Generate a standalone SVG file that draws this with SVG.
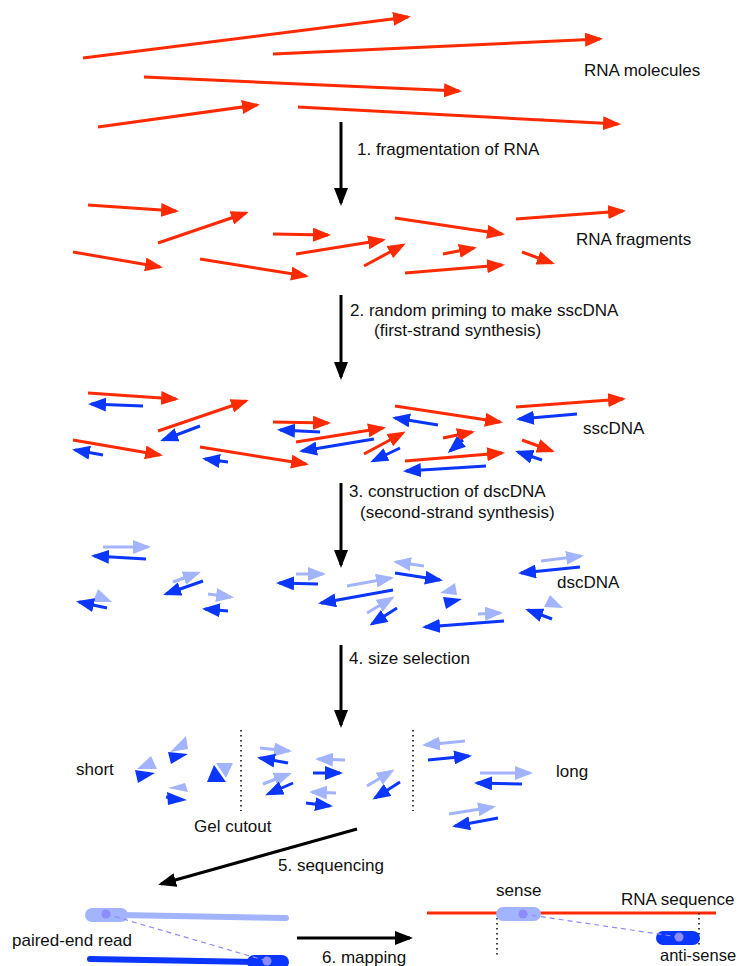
<svg xmlns="http://www.w3.org/2000/svg" width="740" height="966" viewBox="0 0 740 966">
<defs>
<style>
text{font-family:"Liberation Sans",Arial,sans-serif;font-size:17px;fill:#111}
.r{stroke:#ff2a00;stroke-width:3;fill:none;marker-end:url(#hr)}
.b{stroke:#0a36ff;stroke-width:3;fill:none;marker-end:url(#hb)}
.l{stroke:#a3b4ff;stroke-width:3;fill:none;marker-end:url(#hl)}
.k{stroke:#000;stroke-width:3;fill:none;marker-end:url(#hk)}
.tb{fill:#0a36ff}
.tl{fill:#a3b4ff}
.dot{stroke:#000;stroke-width:1.5;stroke-dasharray:1.5 3.5;fill:none}
</style>
<marker id="hr" markerUnits="userSpaceOnUse" markerWidth="18" markerHeight="14" viewBox="0 0 18 14" refX="15" refY="7" orient="auto"><path d="M0,0L18,7L0,14z" fill="#ff2a00"/></marker>
<marker id="hb" markerUnits="userSpaceOnUse" markerWidth="18" markerHeight="14" viewBox="0 0 18 14" refX="15" refY="7" orient="auto"><path d="M0,0L18,7L0,14z" fill="#0a36ff"/></marker>
<marker id="hl" markerUnits="userSpaceOnUse" markerWidth="18" markerHeight="14" viewBox="0 0 18 14" refX="15" refY="7" orient="auto"><path d="M0,0L18,7L0,14z" fill="#a3b4ff"/></marker>
<marker id="hk" markerUnits="userSpaceOnUse" markerWidth="18" markerHeight="14" viewBox="0 0 18 14" refX="15" refY="7" orient="auto"><path d="M0,0L18,7L0,14z" fill="#000"/></marker>
</defs>
<rect width="740" height="966" fill="#fff"/>

<g id="rna-molecules">
<line class="r" x1="83" y1="58" x2="408" y2="17"/>
<line class="r" x1="273" y1="54" x2="600" y2="39"/>
<line class="r" x1="144" y1="77" x2="459" y2="91"/>
<line class="r" x1="98" y1="127" x2="257" y2="105"/>
<line class="r" x1="298" y1="107" x2="618" y2="124"/>
<text x="584" y="76">RNA molecules</text>
</g>

<g id="rna-fragments">
<line class="r" x1="88" y1="205" x2="176" y2="211"/>
<line class="r" x1="158" y1="243" x2="246" y2="213"/>
<line class="r" x1="273" y1="234" x2="328" y2="235"/>
<line class="r" x1="296" y1="254" x2="383" y2="240"/>
<line class="r" x1="364" y1="266" x2="403" y2="245"/>
<line class="r" x1="73" y1="252" x2="160" y2="267"/>
<line class="r" x1="200" y1="259" x2="306" y2="276"/>
<line class="r" x1="395" y1="218" x2="502" y2="234"/>
<line class="r" x1="516" y1="219" x2="623" y2="211"/>
<line class="r" x1="443" y1="254" x2="474" y2="248"/>
<line class="r" x1="405" y1="273" x2="502" y2="265"/>
<line class="r" x1="522" y1="252" x2="552" y2="263"/>
<text x="576" y="245">RNA fragments</text>
</g>

<g id="sscdna">
<line class="r" x1="88" y1="393" x2="176" y2="399"/>
<line class="r" x1="158" y1="431" x2="246" y2="401"/>
<line class="r" x1="273" y1="422" x2="328" y2="423"/>
<line class="r" x1="296" y1="442" x2="383" y2="428"/>
<line class="r" x1="364" y1="454" x2="403" y2="433"/>
<line class="r" x1="73" y1="440" x2="160" y2="455"/>
<line class="r" x1="200" y1="447" x2="306" y2="464"/>
<line class="r" x1="395" y1="406" x2="500" y2="422"/>
<line class="r" x1="516" y1="407" x2="623" y2="399"/>
<line class="r" x1="443" y1="438" x2="472" y2="432"/>
<line class="r" x1="405" y1="461" x2="502" y2="453"/>
<line class="r" x1="522" y1="440" x2="552" y2="451"/>
<line class="b" x1="143" y1="406" x2="91" y2="404"/>
<line class="b" x1="200" y1="426" x2="163" y2="440"/>
<line class="b" x1="103" y1="455" x2="75" y2="450"/>
<line class="b" x1="228" y1="462" x2="205" y2="459"/>
<line class="b" x1="320" y1="432" x2="280" y2="430"/>
<line class="b" x1="374" y1="439" x2="302" y2="451"/>
<line class="b" x1="400" y1="448" x2="373" y2="461"/>
<line class="b" x1="438" y1="425" x2="395" y2="418"/>
<line class="b" x1="463" y1="440" x2="450" y2="451"/>
<line class="b" x1="486" y1="466" x2="406" y2="471"/>
<line class="b" x1="577" y1="414" x2="519" y2="419"/>
<line class="b" x1="542" y1="460" x2="518" y2="452"/>
<text x="583" y="434">sscDNA</text>
</g>

<g id="dscdna">
<line class="l" x1="103" y1="547" x2="148" y2="547"/>
<line class="b" x1="146" y1="559" x2="94" y2="556"/>
<line class="l" x1="173" y1="582" x2="198" y2="573"/>
<line class="b" x1="203" y1="581" x2="166" y2="594"/>
<polygon class="tl" points="98,589 112,602 93,602"/>
<line class="b" x1="107" y1="608" x2="79" y2="602"/>
<line class="l" x1="208" y1="594" x2="231" y2="597"/>
<line class="b" x1="228" y1="611" x2="205" y2="609"/>
<line class="l" x1="296" y1="574" x2="323" y2="574"/>
<line class="b" x1="318" y1="584" x2="279" y2="583"/>
<line class="l" x1="347" y1="586" x2="391" y2="578"/>
<line class="b" x1="393" y1="590" x2="321" y2="603"/>
<line class="l" x1="367" y1="613" x2="392" y2="598"/>
<line class="b" x1="397" y1="608" x2="372" y2="624"/>
<line class="l" x1="424" y1="566" x2="396" y2="562"/>
<line class="b" x1="395" y1="573" x2="440" y2="580"/>
<polygon class="tl" points="440,593 455,583 457,595"/>
<polygon class="tb" points="443,597 462,599 446,609"/>
<line class="l" x1="478" y1="614" x2="500" y2="613"/>
<line class="b" x1="504" y1="621" x2="425" y2="627"/>
<line class="l" x1="541" y1="561" x2="581" y2="556"/>
<line class="b" x1="580" y1="567" x2="521" y2="573"/>
<polygon class="tl" points="550,595 563,608 544,607"/>
<line class="b" x1="552" y1="619" x2="528" y2="610"/>
<text x="557" y="588">dscDNA</text>
</g>

<g id="size-selection">
<polygon class="tl" points="137,769 151,756 157,769"/>
<polygon class="tb" points="135,770 155,773 138,783"/>
<polygon class="tl" points="170,752 186,736 188,749"/>
<polygon class="tb" points="168,752 188,754 171,764"/>
<polygon class="tl" points="216,763 233,763 226,778"/>
<polygon class="tb" points="207,782 214,765 226,782"/>
<polygon class="tl" points="168,788 185,783 188,792"/>
<polygon class="tb" points="167,792 187,800 168,805"/>
<line x1="166" y1="797" x2="172" y2="798" stroke="#0a36ff" stroke-width="3"/>
<line class="l" x1="260" y1="748" x2="289" y2="751"/>
<line class="b" x1="288" y1="763" x2="260" y2="758"/>
<line class="l" x1="345" y1="760" x2="318" y2="759"/>
<line class="b" x1="313" y1="773" x2="340" y2="773"/>
<line class="l" x1="263" y1="784" x2="289" y2="774"/>
<line class="b" x1="293" y1="783" x2="268" y2="794"/>
<line class="l" x1="336" y1="793" x2="312" y2="792"/>
<line class="b" x1="306" y1="803" x2="330" y2="806"/>
<line class="l" x1="367" y1="786" x2="392" y2="771"/>
<line class="b" x1="400" y1="782" x2="375" y2="798"/>
<line class="l" x1="465" y1="741" x2="425" y2="745"/>
<line class="b" x1="428" y1="760" x2="469" y2="756"/>
<line class="l" x1="480" y1="773" x2="530" y2="773"/>
<line class="b" x1="522" y1="784" x2="477" y2="783"/>
<line class="l" x1="449" y1="814" x2="493" y2="807"/>
<line class="b" x1="498" y1="818" x2="455" y2="826"/>
<line class="dot" x1="241" y1="730" x2="241" y2="811"/>
<line class="dot" x1="413" y1="730" x2="413" y2="811"/>
<text x="76" y="775">short</text>
<text x="556" y="777">long</text>
<text x="194" y="832">Gel cutout</text>
</g>

<g id="paired-end-read">
<line x1="120" y1="915" x2="286" y2="918" stroke="#a3b4ff" stroke-width="6" stroke-linecap="round"/>
<rect x="85" y="908" width="43" height="14" rx="7" fill="#a3b4ff"/>
<line x1="90" y1="959" x2="260" y2="962" stroke="#0a36ff" stroke-width="6" stroke-linecap="round"/>
<rect x="247" y="955" width="42" height="14" rx="7" fill="#0a36ff"/>
<line x1="106" y1="914" x2="267" y2="961" stroke="#8c8cff" stroke-width="1.2" stroke-dasharray="5 4"/>
<circle cx="106" cy="914" r="4.5" fill="#8c8cff"/>
<circle cx="267" cy="961" r="4.5" fill="#8c8cff"/>
<text x="12" y="946">paired-end read</text>
</g>

<g id="rna-sequence">
<line x1="427" y1="913" x2="716" y2="913" stroke="#ff2a00" stroke-width="3"/>
<line class="dot" x1="497" y1="913" x2="497" y2="958"/>
<line class="dot" x1="699" y1="913" x2="699" y2="947"/>
<rect x="496" y="907" width="45" height="14" rx="7" fill="#a3b4ff"/>
<rect x="656" y="931" width="44" height="14" rx="7" fill="#0a36ff"/>
<line x1="523" y1="914" x2="679" y2="937" stroke="#8c8cff" stroke-width="1.2" stroke-dasharray="5 4"/>
<circle cx="523" cy="914" r="4.5" fill="#8c8cff"/>
<circle cx="679" cy="937" r="4.5" fill="#8c8cff"/>
<text x="496" y="896">sense</text>
<text x="621" y="905">RNA sequence</text>
<text x="660" y="961" style="font-size:16.5px">anti-sense</text>
</g>

<g id="connectors">
<line class="k" x1="341" y1="122" x2="341" y2="203"/>
<line class="k" x1="341" y1="295" x2="341" y2="377"/>
<line class="k" x1="341" y1="483" x2="341" y2="565"/>
<line class="k" x1="341" y1="645" x2="341" y2="725"/>
<line class="k" x1="357" y1="829" x2="161" y2="884"/>
<line class="k" x1="297" y1="938" x2="410" y2="938"/>
<text x="357" y="155">1. fragmentation of RNA</text>
<text x="350" y="316">2. random priming to make sscDNA</text>
<text x="374" y="336">(first-strand synthesis)</text>
<text x="349" y="497">3. construction of dscDNA</text>
<text x="360" y="518">(second-strand synthesis)</text>
<text x="349" y="664">4. size selection</text>
<text x="278" y="871">5. sequencing</text>
<text x="322" y="963">6. mapping</text>
</g>
</svg>
